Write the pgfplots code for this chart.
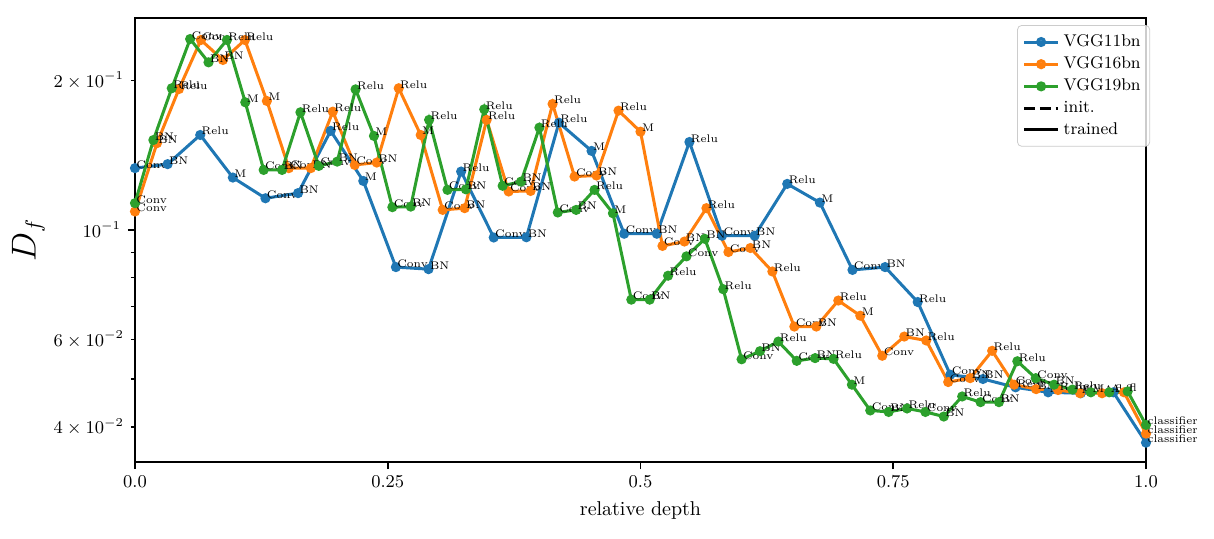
\documentclass[border=0pt]{standalone}
\usepackage{pgfplots}
\pgfplotsset{compat=1.18}
\usepackage{pgfplotstable}

\definecolor{tabblue}{RGB}{31,119,180}
\definecolor{taborange}{RGB}{255,127,14}
\definecolor{tabgreen}{RGB}{44,160,44}
\definecolor{legendgray}{RGB}{204,204,204}

% VGG11bn, 32 layers
\pgfplotstableread{
x y label
0       0.1332 Conv
0.03226 0.1357 BN
0.06452 0.1554 Relu
0.09677 0.1275 M
0.12903 0.1158 Conv
0.16129 0.1186 BN
0.19355 0.1584 Relu
0.22581 0.1255 M
0.25806 0.0841 Conv
0.29032 0.0833 BN
0.32258 0.1311 Relu
0.35484 0.0965 Conv
0.38710 0.0966 BN
0.41935 0.1645 Relu
0.45161 0.1443 M
0.48387 0.0982 Conv
0.51613 0.0982 BN
0.54839 0.1504 Relu
0.58065 0.0973 Conv
0.61290 0.0973 BN
0.64516 0.1238 Relu
0.67742 0.1135 M
0.70968 0.0830 Conv
0.74194 0.0841 BN
0.77419 0.0715 Relu
0.80645 0.0510 Conv
0.83871 0.0500 BN
0.87097 0.0481 Relu
0.90323 0.0470 M
0.93548 0.0468 A
0.96774 0.0470 fl
1       0.0372 classifier
}\vggeleven

% VGG16bn, 47 layers
\pgfplotstableread{
x y label
0       0.1089 Conv
0.02174 0.1496 BN
0.04348 0.1924 Relu
0.06522 0.2416 Conv
0.08696 0.2202 BN
0.10870 0.2416 Relu
0.13043 0.1820 M
0.15217 0.1332 Conv
0.17391 0.1332 BN
0.19565 0.1732 Relu
0.21739 0.1352 Conv
0.23913 0.1367 BN
0.26087 0.1931 Relu
0.28261 0.1554 M
0.30435 0.1097 Conv
0.32609 0.1106 BN
0.34783 0.1667 Relu
0.36957 0.1195 Conv
0.39130 0.1198 BN
0.41304 0.1795 Relu
0.43478 0.1281 Conv
0.45652 0.1287 BN
0.47826 0.1740 Relu
0.50000 0.1578 M
0.52174 0.0928 Conv
0.54348 0.0947 BN
0.56522 0.1106 Relu
0.58696 0.0902 Conv
0.60870 0.0919 BN
0.63043 0.0824 Relu
0.65217 0.0638 Conv
0.67391 0.0638 BN
0.69565 0.0720 Relu
0.71739 0.0671 M
0.73913 0.0557 Conv
0.76087 0.0609 BN
0.78261 0.0598 Relu
0.80435 0.0493 Conv
0.82609 0.0502 BN
0.84783 0.0570 Relu
0.86957 0.0487 Conv
0.89130 0.0477 BN
0.91304 0.0475 Relu
0.93478 0.0468 M
0.95652 0.0468 A
0.97826 0.0470 fl
1       0.0388 classifier
}\vggsixteen

% VGG19bn, 56 layers
\pgfplotstableread{
x y label
0       0.1132 Conv
0.01818 0.1518 BN
0.03636 0.1931 Relu
0.05455 0.2427 Conv
0.07273 0.2178 BN
0.09091 0.2416 Relu
0.10909 0.1809 M
0.12727 0.1321 Conv
0.14545 0.1321 BN
0.16364 0.1727 Relu
0.18182 0.1346 Conv
0.20000 0.1373 BN
0.21818 0.1921 Relu
0.23636 0.1547 M
0.25455 0.1111 Conv
0.27273 0.1114 BN
0.29091 0.1667 Relu
0.30909 0.1204 Conv
0.32727 0.1207 BN
0.34545 0.1751 Relu
0.36364 0.1227 Conv
0.38182 0.1251 BN
0.40000 0.1608 Relu
0.41818 0.1084 Conv
0.43636 0.1097 BN
0.45455 0.1204 Relu
0.47273 0.1080 M
0.49091 0.0723 Conv
0.50909 0.0723 BN
0.52727 0.0808 Relu
0.54545 0.0884 Conv
0.56364 0.0959 BN
0.58182 0.0759 Relu
0.60000 0.0548 Conv
0.61818 0.0569 BN
0.63636 0.0595 Relu
0.65455 0.0544 Conv
0.67273 0.0551 BN
0.69091 0.0549 Relu
0.70909 0.0487 M
0.72727 0.0432 Conv
0.74545 0.0429 BN
0.76364 0.0436 Relu
0.78182 0.0429 Conv
0.80000 0.0420 BN
0.81818 0.0461 Relu
0.83636 0.0449 Conv
0.85455 0.0449 BN
0.87273 0.0543 Relu
0.89091 0.0502 Conv
0.90909 0.0487 BN
0.92727 0.0476 Relu
0.94545 0.0470 M
0.96364 0.0470 A
0.98182 0.0472 fl
1       0.0404 classifier
}\vggnineteen

\pgfplotsset{
  layer/.style={line width=1.5pt, mark=*, mark size=1.75pt, mark options={solid},
    nodes near coords, point meta=explicit symbolic},
}

\begin{document}
\begin{tikzpicture}
\begin{axis}[
  scale only axis,
  width=505.5pt, height=222pt,
  xmin=0, xmax=1,
  ymode=log, ymin=0.0340, ymax=0.2676,
  clip=false,
  axis line style={line width=0.8pt},
  tick align=outside,
  tick pos=left,
  major tick length=3.5pt,
  minor tick length=2pt,
  every tick/.style={black, line width=0.8pt},
  minor tick style={line width=0.6pt},
  xtick={0,0.25,0.5,0.75,1},
  xticklabels={$0.0$,$0.25$,$0.5$,$0.75$,$1.0$},
  ytick={0.1},
  yticklabels={$10^{-1}$},
  extra y ticks={0.04,0.06,0.2},
  extra y tick labels={$4\times10^{-2}$,$6\times10^{-2}$,$2\times10^{-1}$},
  extra y tick style={major tick length=2pt, tick style={line width=0.6pt}},
  minor ytick={0.05,0.07,0.08,0.09},
  tick label style={font=\fontsize{9}{10}\selectfont},
  xlabel={relative depth},
  ylabel={$D_f$},
  ylabel shift=-6pt,
  ylabel style={font=\fontsize{16}{18}\selectfont},
  every node near coord/.append style={anchor=base west, inner sep=0pt,
    text=black, font=\fontsize{5.5}{6}\selectfont},
  legend cell align={left},
  legend style={at={(1.004,0.984)}, anchor=north east, draw=legendgray,
    rounded corners=2pt, fill=white, fill opacity=0.8, text opacity=1,
    draw opacity=1, font=\fontsize{8.5}{9.5}\selectfont,
    row sep=-0.4pt, inner sep=2.5pt},
  legend image post style={xshift=-1.5pt},
]
\addplot[layer, tabblue] table[x=x, y=y, meta=label] {\vggeleven};
\addlegendentry{VGG11bn}
\addplot[layer, taborange] table[x=x, y=y, meta=label] {\vggsixteen};
\addlegendentry{VGG16bn}
\addplot[layer, tabgreen] table[x=x, y=y, meta=label] {\vggnineteen};
\addlegendentry{VGG19bn}
\addlegendimage{black, line width=1.5pt, dash pattern=on 5.5pt off 2.4pt}
\addlegendentry{init.}
\addlegendimage{black, line width=1.5pt}
\addlegendentry{trained}
\end{axis}
\path ([xshift=-67.5pt, yshift=-38.5pt]current axis.south west)
  rectangle ([xshift=34pt, yshift=9pt]current axis.north east);
\end{tikzpicture}
\end{document}
